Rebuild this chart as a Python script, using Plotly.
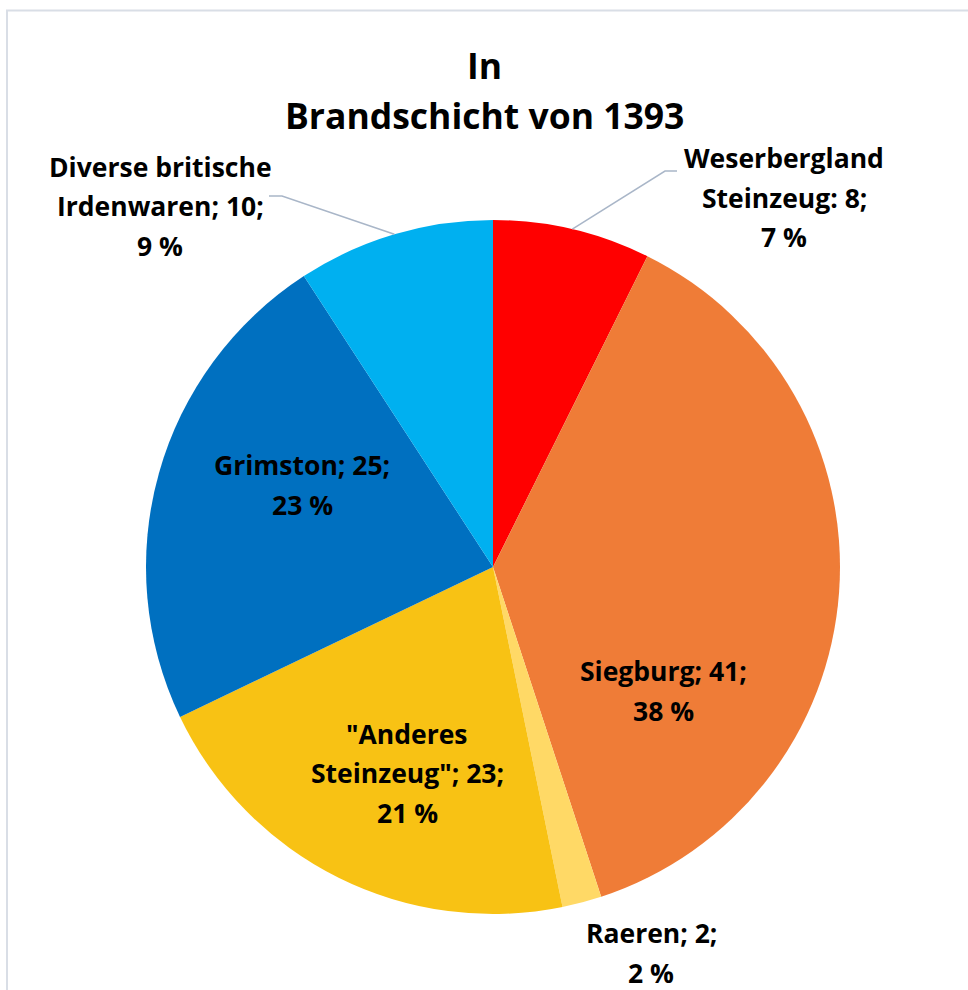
import math
import plotly.graph_objects as go

# Fundmaterial in der Brandschicht von 1393 (Anzahl Scherben)
categories = [
    "Weserbergland Steinzeug",
    "Siegburg",
    "Raeren",
    '"Anderes Steinzeug"',
    "Grimston",
    "Diverse britische Irdenwaren",
]
values = [8, 41, 2, 23, 25, 10]
colors = ["#FF0000", "#EF7C37", "#FFD966", "#F8C214", "#0070C0", "#00B0F0"]

# label wording, line by line (name part; value and percent are appended)
label_names = [
    ["Weserbergland", "Steinzeug:"],
    ["Siegburg;"],
    ["Raeren;"],
    ['"Anderes', 'Steinzeug";'],
    ["Grimston;"],
    ["Diverse britische", "Irdenwaren;"],
]
# which line gets the value appended, and where each block sits (px)
label_layout = [
    dict(cx=784, cy=198, value_line=1),
    dict(cx=663, cy=691, value_line=0),
    dict(cx=651, cy=953, value_line=0),
    dict(cx=407, cy=773, value_line=1),
    dict(cx=302, cy=485, value_line=0),
    dict(cx=160, cy=206, value_line=1),
]

W, H = 968, 990
CX, CY, R = 493, 567, 347
FONT = "Open Sans"
LINE_GAP = 39.5

total = sum(values)


def px(x):
    return x / W


def py(y):
    return 1 - y / H


fig = go.Figure(
    go.Pie(
        labels=categories,
        values=values,
        sort=False,
        direction="clockwise",
        rotation=0,
        marker=dict(colors=colors, line=dict(width=0)),
        textinfo="none",
        hoverinfo="label+value+percent",
        showlegend=False,
        domain=dict(
            x=[px(CX - R), px(CX + R)],
            y=[py(CY + R), py(CY - R)],
        ),
    )
)

annotations = []

# title, two lines
for text, y in [("In", 65), ("Brandschicht von 1393", 115)]:
    annotations.append(dict(
        text=f"<b>{text}</b>", x=px(484), y=py(y), xref="paper", yref="paper",
        showarrow=False, xanchor="center", yanchor="middle",
        font=dict(family=FONT, size=35.5, color="#000000"),
    ))

# data labels
for name_lines, v, lay in zip(label_names, values, label_layout):
    pct = round(v / total * 100)
    lines = list(name_lines)
    lines[lay["value_line"]] = f"{lines[lay['value_line']]} {v};"
    lines.append(f"{pct} %")
    n = len(lines)
    for i, line in enumerate(lines):
        y = lay["cy"] + (i - (n - 1) / 2) * LINE_GAP
        annotations.append(dict(
            text=f"<b>{line}</b>", x=px(lay["cx"]), y=py(y),
            xref="paper", yref="paper", showarrow=False,
            xanchor="center", yanchor="middle",
            font=dict(family=FONT, size=26.5, color="#000000"),
        ))


def edge_point(idx):
    start = sum(values[:idx])
    mid = (start + values[idx] / 2) / total * 2 * math.pi
    return CX + R * math.sin(mid), CY - R * math.cos(mid)


shapes = [
    # chart frame
    dict(type="rect", xref="paper", yref="paper",
         x0=px(7), y0=-0.02, x1=1.02, y1=py(10.5),
         line=dict(color="#D9DEE6", width=2), fillcolor="rgba(0,0,0,0)"),
]

# leader lines for the outside labels
leaders = [(0, (677, 171), (665, 171)), (5, (269, 196), (282, 196))]
for idx, (x0, y0), (x1, y1) in leaders:
    ex, ey = edge_point(idx)
    path = f"M {px(x0)},{py(y0)} L {px(x1)},{py(y1)} L {px(ex)},{py(ey)}"
    shapes.append(dict(type="path", xref="paper", yref="paper", path=path,
                       line=dict(color="#A9B6C8", width=1.5)))

fig.update_layout(
    width=W, height=H,
    margin=dict(l=0, r=0, t=0, b=0),
    paper_bgcolor="#FFFFFF",
    plot_bgcolor="#FFFFFF",
    annotations=annotations,
    shapes=shapes,
)

fig.write_html("out.html")
